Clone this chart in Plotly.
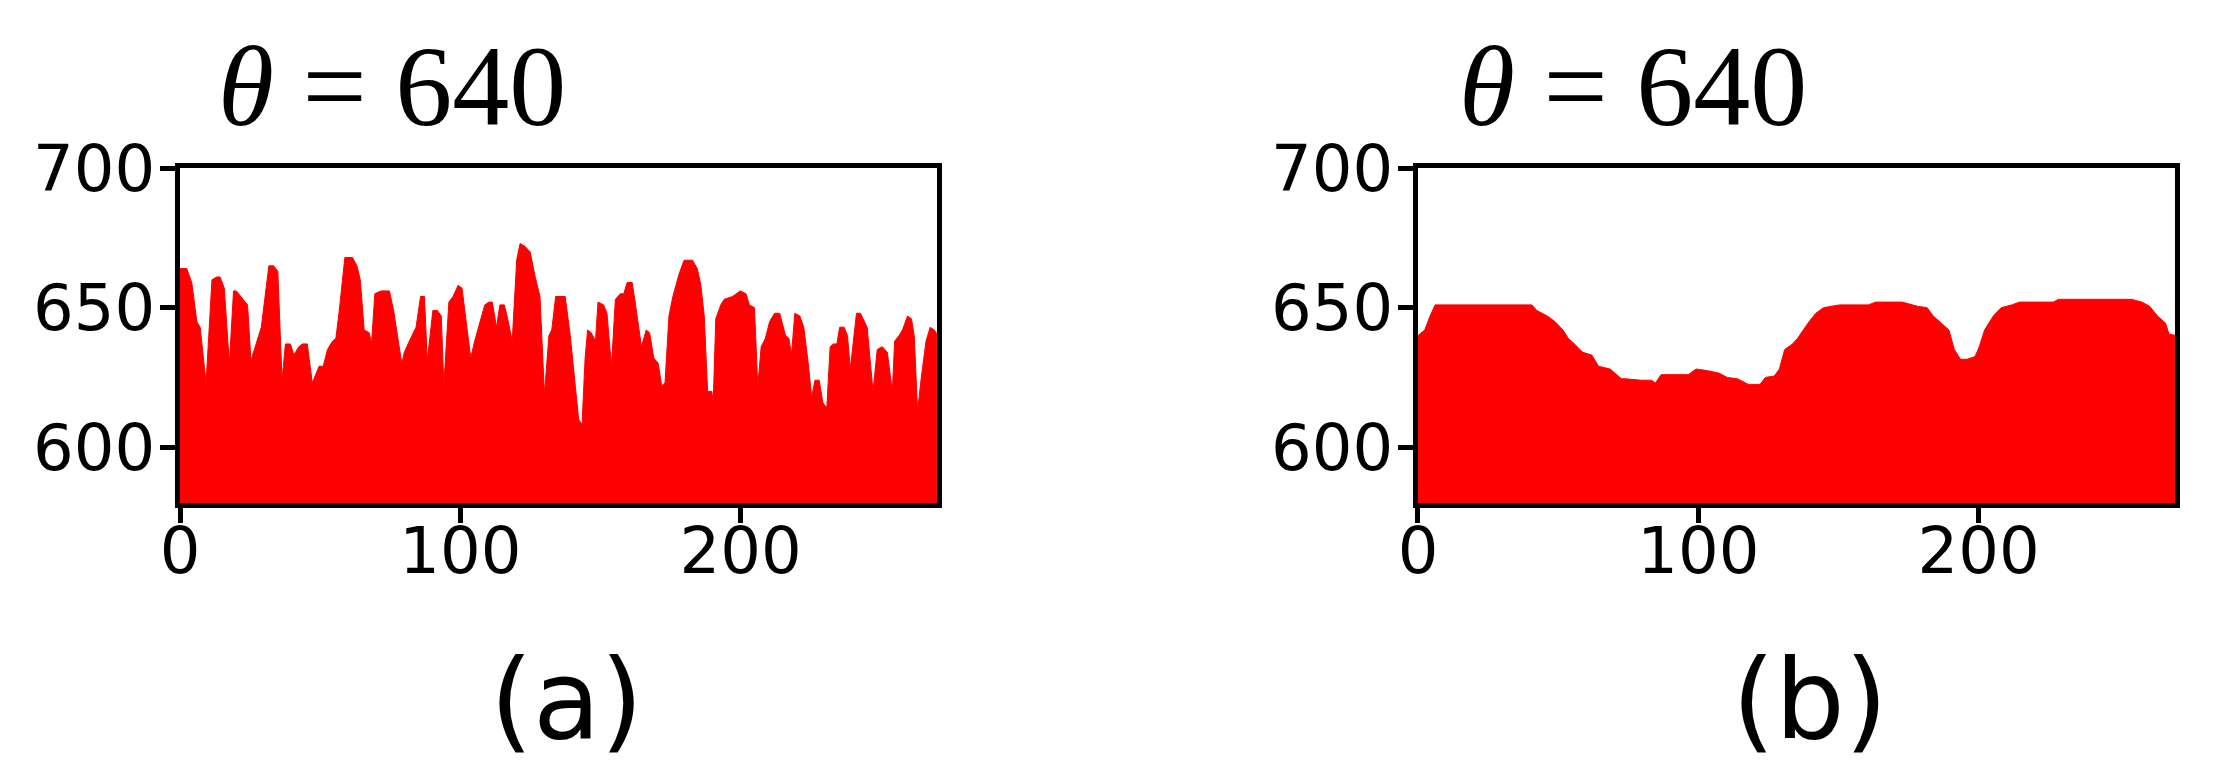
import plotly.graph_objects as go

# Panel (a) profile
a_x = [0, 2.4, 4.2, 6.0, 7.2, 9.3, 11.4, 13.1, 14.3, 15.8, 17.6, 19.1, 20.1, 23.2, 24.1, 25.3, 27.5, 29.0,
       31.7, 33.4, 34.9, 36.4, 37.6, 39.4, 40.6, 42.4, 43.6, 45.4, 47.2, 49.6, 51.1, 52.6, 54.4, 55.6,
       56.7, 58.8, 61.5, 63.1, 64.3, 65.7, 67.5, 68.3, 69.5, 71.7, 74.7, 76.2, 79.1, 80.0, 81.8, 84.2,
       85.8, 87.2, 88.2, 90.2, 91.8, 93.2, 94.1, 95.9, 97.4, 99.2, 100.6, 102.2, 103.7, 105.1, 107.0,
       108.7, 110.2, 111.4, 112.9, 114.1, 115.7, 116.9, 118.5, 120.1, 121.3, 123.0, 124.9, 126.7, 128.4,
       130.0, 131.6, 132.6, 134.0, 137.4, 139.2, 142.2, 143.4, 144.5, 145.4, 146.7, 148.2, 149.1, 151.1,
       152.3, 153.9, 155.3, 157.1, 158.3, 159.5, 161.3, 162.5, 163.9, 164.6, 166.3, 167.5, 169.0, 170.6,
       171.8, 173.0, 174.4, 175.8, 178.0, 179.8, 181.3, 182.8, 184.5, 185.8, 187.0, 188.2, 189.7, 190.2,
       191.1, 192.9, 194.1, 197.1, 199.8, 201.9, 203.1, 204.9, 206.1, 207.3, 208.8, 210.3, 212.1, 213.9,
       216.0, 217.2, 218.1, 219.3, 221.1, 222.5, 224.1, 225.3, 226.5, 228.0, 229.3, 230.7, 231.9, 233.1,
       234.3, 235.3, 236.9, 238.1, 239.1, 240.3, 241.3, 242.7, 245.1, 247.2, 248.7, 250.5, 252.3, 254.1,
       254.9, 256.5, 257.7, 259.5, 260.9, 261.9, 263.1, 264.3, 266.1, 267.6, 269.0, 270.5]
a_y = [664, 664, 659, 645, 643, 623, 660, 661, 661, 657, 630, 656, 656, 652, 651, 631, 638, 643,
       665, 665, 663, 624, 637, 637, 633, 636, 637, 637, 623, 629, 629, 635, 638, 639,
       648, 668, 668, 665, 660, 642, 641, 637, 655, 656, 656, 649, 630, 634, 638, 643,
       654, 654, 631, 649, 649, 647, 622, 652, 654, 658, 657, 645, 632, 638, 645,
       651, 652, 652, 643, 651, 651, 646, 638, 667, 673, 672, 670, 661, 654,
       619, 640, 642, 654, 654, 640, 610, 608, 632, 642, 641, 638, 652, 651,
       648, 629, 653, 655, 655, 659, 659, 651, 641, 636, 642, 641, 632, 630,
       622, 623, 647, 654, 662, 667, 667, 667, 664, 658, 647, 620, 620, 616,
       646, 651, 653, 654, 656, 655, 651, 650, 622, 636, 639, 645, 648, 648,
       640, 639, 633, 648, 647, 643, 630, 618, 624, 624, 616, 614, 636, 637,
       637, 643, 643, 640, 628, 638, 648, 648, 643, 620, 635, 636, 634, 620,
       638, 640, 642, 647, 646, 640, 613, 624, 638, 643, 642, 640]

# Panel (b) profile
b_x = [0, 2.4, 4.3, 6.1, 40.6, 42.4, 46.1, 48.9, 51.7, 53.6, 55.8, 58.8, 62.0, 64.4, 68.5, 72.6, 74.0,
       79.6, 83.3, 84.7, 86.7, 96.4, 99.2, 102.9, 107.5, 110.3, 114.0, 117.8, 122.0, 123.9, 127.1, 128.9,
       130.8, 133.6, 135.4, 137.3, 139.5, 141.9, 144.7, 150.3, 160.6, 163.3, 172.7, 178.2, 181.6, 183.8,
       186.6, 189.4, 191.3, 193.5, 195.9, 198.7, 200.2, 202.1, 205.2, 208.0, 211.8, 214.6, 226.6, 228.5,
       254.5, 258.2, 261.0, 263.8, 266.6, 267.9, 270.5]
b_y = [640, 642, 647, 651, 651, 649, 647, 645, 642, 639, 637, 634, 633, 629, 628, 624.5, 624.5,
       624, 624, 623, 626, 626, 628, 627.5, 626.5, 625, 624.5, 622.5, 622.5, 625, 625.5, 628,
       635, 637, 639, 642, 645, 648, 650, 651, 651, 652, 652, 650.5, 650, 647,
       644.5, 642, 635, 631.5, 631.5, 632.5, 636, 642, 647, 650, 651, 652, 652, 653,
       653, 652, 650.5, 647, 644.5, 640.5, 640]

titles = ["<i>θ</i> = 640", "<i>θ</i> = 640"]
labels = ["(a)", "(b)"]
x_ticks = [0, 100, 200]
y_ticks = [600, 650, 700]
x_range = [0, 270]
y_range = [580, 700]

RED = "#ff0000"
fig = go.Figure()
fig.add_trace(go.Scatter(x=a_x, y=a_y, mode="lines", fill="tozeroy", fillcolor=RED,
                         line=dict(color=RED, width=1), xaxis="x", yaxis="y", showlegend=False))
fig.add_trace(go.Scatter(x=b_x, y=b_y, mode="lines", fill="tozeroy", fillcolor=RED,
                         line=dict(color=RED, width=1), xaxis="x2", yaxis="y2", showlegend=False))

tickfont = dict(family="DejaVu Sans", size=64, color="black")
common_x = dict(range=x_range, tickvals=x_ticks, showgrid=False, zeroline=False, showline=True,
                linecolor="black", linewidth=5, mirror=True, ticks="outside", ticklen=15,
                tickwidth=5, tickcolor="black", tickfont=tickfont, ticklabelstandoff=-27,
                automargin=False)
common_y = dict(range=y_range, tickvals=y_ticks, showgrid=False, zeroline=False, showline=True,
                linecolor="black", linewidth=5, mirror=True, ticks="outside", ticklen=15,
                tickwidth=5, tickcolor="black", tickfont=tickfont, ticklabelstandoff=-8,
                automargin=False)

fig.update_layout(
    width=2225, height=775,
    margin=dict(l=0, r=0, t=0, b=0, autoexpand=False),
    paper_bgcolor="white", plot_bgcolor="white",
    xaxis=dict(domain=[0.0809, 0.4211], anchor="y", **common_x),
    yaxis=dict(domain=[0.351, 0.783], anchor="x", **common_y),
    xaxis2=dict(domain=[0.6373, 0.9775], anchor="y2", **common_x),
    yaxis2=dict(domain=[0.351, 0.783], anchor="x2", **common_y),
)

title_x = [0.1762, 0.7339]
label_x = [0.2548, 0.8135]
for i in range(2):
    fig.add_annotation(text=titles[i], xref="paper", yref="paper", x=title_x[i], y=0.889,
                       xanchor="center", yanchor="middle", showarrow=False,
                       font=dict(family="Liberation Serif", size=114, color="black"))
    fig.add_annotation(text=labels[i], xref="paper", yref="paper", x=label_x[i], y=0.097,
                       xanchor="center", yanchor="middle", showarrow=False,
                       font=dict(family="DejaVu Sans", size=110, color="black"))

fig.write_html("out.html", config={"displayModeBar": False},
               post_script="document.body.style.margin='0';document.body.style.overflow='hidden';")
